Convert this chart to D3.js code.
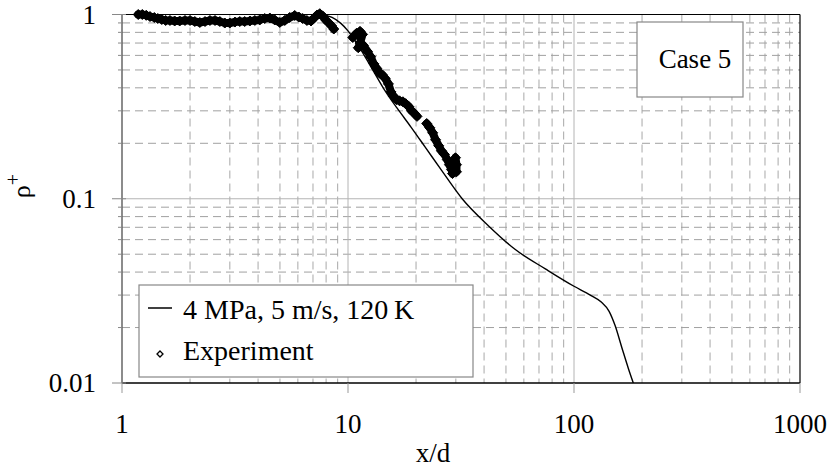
<!DOCTYPE html>
<html>
<head>
<meta charset="utf-8">
<script src="https://cdn.jsdelivr.net/npm/d3@7"></script>
<style>
  body { margin: 0; background: #fff; }
  svg { display: block; font-family: "Liberation Serif", "Times New Roman", serif; }
</style>
</head>
<body>
<div id="chart"></div>
<script>
// Simulation curve (4 MPa, 5 m/s, 120 K)
const simX   = [7.5, 8.5, 9.3, 10.0, 11.0, 12.0, 13.0, 14.5, 16.5, 19.0, 22.0, 26.0, 32.0, 42, 55, 75, 100, 118, 132, 143, 152, 163, 174, 183];
const simRho = [1.0, 0.965, 0.895, 0.815, 0.69, 0.58, 0.49, 0.39, 0.31, 0.245, 0.19, 0.142, 0.100, 0.071, 0.053, 0.0415, 0.0335, 0.0300, 0.0275, 0.0245, 0.0205, 0.0155, 0.0120, 0.0100];

// Experiment, three measured stretches [x/d, rho+]
const expSeg1 = [
  [1.18, 1.0], [1.23, 1.0], [1.28, 0.99], [1.33, 0.975], [1.39, 0.963], [1.44, 0.951], [1.50, 0.939],
  [1.56, 0.928], [1.63, 0.928], [1.71, 0.922], [1.80, 0.922], [1.90, 0.928], [2.0, 0.928], [2.10, 0.916],
  [2.21, 0.905], [2.33, 0.916], [2.45, 0.928], [2.58, 0.928], [2.71, 0.916], [2.85, 0.899], [3.0, 0.899],
  [3.16, 0.910], [3.32, 0.916], [3.49, 0.916], [3.68, 0.922], [3.87, 0.928], [4.07, 0.934], [4.28, 0.951],
  [4.51, 0.957], [4.74, 0.934], [4.99, 0.905], [5.25, 0.928], [5.52, 0.963], [5.81, 0.988], [6.06, 0.969],
  [6.30, 0.951], [6.58, 0.928], [6.86, 0.922], [7.08, 0.957], [7.30, 0.994], [7.50, 1.01], [7.73, 0.98],
  [7.97, 0.934], [8.22, 0.899], [8.47, 0.866], [8.65, 0.834]
];
const expSeg2 = [
  [10.5, 0.75], [10.9, 0.79], [11.3, 0.81], [11.6, 0.78], [11.3, 0.70], [11.1, 0.66], [11.7, 0.68],
  [12.2, 0.63], [12.6, 0.59], [13.0, 0.54], [13.4, 0.51], [13.8, 0.48], [14.2, 0.47], [14.6, 0.45],
  [15.1, 0.42], [15.5, 0.38], [15.9, 0.36], [16.4, 0.345], [16.9, 0.34], [17.5, 0.336], [18.0, 0.328],
  [18.6, 0.316], [19.1, 0.30], [19.7, 0.29], [20.2, 0.28]
];
const expSeg3 = [
  [22.3, 0.256], [23.0, 0.243], [23.7, 0.228], [24.4, 0.209], [25.2, 0.194], [25.9, 0.182], [26.7, 0.174],
  [27.5, 0.163], [28.1, 0.153], [28.7, 0.144], [29.3, 0.153], [29.9, 0.167], [30.2, 0.153], [30.2, 0.14],
  [29.0, 0.137]
];

const xMajor = [1, 10, 100, 1000];
const yMajor = [0.01, 0.1, 1];
const legendLabels = ["4 MPa, 5 m/s, 120\u2009K", "Experiment"];

const width = 832, height = 470;
const margin = {top: 14.5, right: 32, bottom: 87, left: 122};
const innerW = width - margin.left - margin.right;
const innerH = height - margin.top - margin.bottom;

const svg = d3.select("#chart").append("svg")
  .attr("width", width)
  .attr("height", height);

const x = d3.scaleLog().domain([1, 1000]).range([0, innerW]);
const y = d3.scaleLog().domain([0.01, 1]).range([innerH, 0]);

const g = svg.append("g").attr("transform", `translate(${margin.left},${margin.top})`);

svg.append("defs").append("clipPath").attr("id", "clip")
  .append("rect").attr("width", innerW).attr("height", innerH);

// grid lines
const xMinor = x.ticks().filter(v => !xMajor.includes(v));
const yMinor = y.ticks().filter(v => !yMajor.some(m => Math.abs(m - v) < 1e-9));

g.append("g").selectAll("line").data(xMinor).join("line")
  .attr("x1", d => x(d)).attr("x2", d => x(d))
  .attr("y1", 0).attr("y2", innerH)
  .attr("stroke", "#a8a8a8").attr("stroke-dasharray", "8,5");

g.append("g").selectAll("line").data(yMinor).join("line")
  .attr("x1", 0).attr("x2", innerW)
  .attr("y1", d => y(d)).attr("y2", d => y(d))
  .attr("stroke", "#a0a0a0").attr("stroke-dasharray", "8,5");

g.append("g").selectAll("line").data(xMajor.slice(1, 3)).join("line")
  .attr("x1", d => x(d)).attr("x2", d => x(d))
  .attr("y1", 0).attr("y2", innerH)
  .attr("stroke", "#b4b4b4");

g.append("g").selectAll("line").data([0.1]).join("line")
  .attr("x1", 0).attr("x2", innerW)
  .attr("y1", d => y(d)).attr("y2", d => y(d))
  .attr("stroke", "#b4b4b4");

// simulation line
const simData = simX.map((v, i) => [v, simRho[i]]);
g.append("path")
  .datum(simData)
  .attr("clip-path", "url(#clip)")
  .attr("fill", "none")
  .attr("stroke", "#000")
  .attr("stroke-width", 1.4)
  .attr("d", d3.line().x(d => x(d[0])).y(d => y(d[1])).curve(d3.curveMonotoneX));

// experiment: overlapping diamond markers form a thick band
const diamond = r => `M0,${-r}L${r},0L0,${r}L${-r},0Z`;
const expSegs = [expSeg1, expSeg2, expSeg3];
g.append("g").selectAll("path").data(expSegs).join("path")
  .attr("fill", "none")
  .attr("stroke", "#000")
  .attr("stroke-width", 8)
  .attr("stroke-linejoin", "round")
  .attr("stroke-linecap", "round")
  .attr("d", d3.line().x(d => x(d[0])).y(d => y(d[1])));

g.append("g").selectAll("path").data(expSegs.flat()).join("path")
  .attr("transform", d => `translate(${x(d[0])},${y(d[1])})`)
  .attr("d", diamond(5))
  .attr("fill", "#000")
  .attr("stroke", "#000")
  .attr("stroke-width", 1);

// axes
g.append("line").attr("x1", 0).attr("x2", innerW).attr("y1", innerH).attr("y2", innerH)
  .attr("stroke", "#000").attr("stroke-width", 1.5);
g.append("line").attr("x1", 0).attr("x2", innerW).attr("y1", 0).attr("y2", 0)
  .attr("stroke", "#000").attr("stroke-width", 1.2);
g.append("line").attr("x1", innerW).attr("x2", innerW).attr("y1", 0).attr("y2", innerH)
  .attr("stroke", "#000").attr("stroke-width", 1.2);
g.append("line").attr("x1", 0).attr("x2", 0).attr("y1", 0).attr("y2", innerH)
  .attr("stroke", "#666").attr("stroke-width", 1.5);

// x ticks below axis
g.append("g").selectAll("line").data(xMajor).join("line")
  .attr("x1", d => x(d)).attr("x2", d => x(d))
  .attr("y1", innerH).attr("y2", innerH + 10)
  .attr("stroke", "#999");

// y ticks
g.append("g").selectAll("line").data(yMajor).join("line")
  .attr("x1", -10).attr("x2", 4)
  .attr("y1", d => y(d)).attr("y2", d => y(d))
  .attr("stroke", "#888");
g.append("g").selectAll("line").data(yMinor).join("line")
  .attr("x1", -4).attr("x2", 0)
  .attr("y1", d => y(d)).attr("y2", d => y(d))
  .attr("stroke", "#888");

// tick labels
g.append("g").selectAll("text").data(xMajor).join("text")
  .attr("x", d => x(d)).attr("y", innerH + 50)
  .attr("text-anchor", "middle")
  .attr("font-size", 27)
  .text(d => d);

g.append("g").selectAll("text").data(yMajor).join("text")
  .attr("x", -26).attr("y", d => y(d) + 9)
  .attr("text-anchor", "end")
  .attr("font-size", 27)
  .text(d => d);

// axis titles
svg.append("text")
  .attr("x", 433).attr("y", 462)
  .attr("text-anchor", "middle")
  .attr("font-size", 27)
  .text("x/d");

const yTitle = svg.append("text")
  .attr("transform", "translate(30,186) rotate(-90)")
  .attr("text-anchor", "middle")
  .attr("font-size", 26);
yTitle.append("tspan").text("\u03c1");
yTitle.append("tspan").attr("dy", -10).attr("font-size", 20).text("+");

// legend
const legend = svg.append("g").attr("transform", "translate(139,285)");
legend.append("rect")
  .attr("width", 334).attr("height", 92)
  .attr("fill", "#fff").attr("stroke", "#888").attr("stroke-width", 1.2);
legend.append("line")
  .attr("x1", 9).attr("x2", 33).attr("y1", 23).attr("y2", 23)
  .attr("stroke", "#000").attr("stroke-width", 1.5);
legend.append("path")
  .attr("transform", "translate(21,69)")
  .attr("d", diamond(3))
  .attr("fill", "#fff").attr("stroke", "#000").attr("stroke-width", 1.3);
legend.selectAll("text.lab").data(legendLabels).join("text")
  .attr("class", "lab")
  .attr("x", 44).attr("y", (d, i) => 34 + i * 41)
  .attr("font-size", 28)
  .text(d => d);

// case label box
const caseBox = svg.append("g").attr("transform", "translate(637,22)");
caseBox.append("rect")
  .attr("width", 106).attr("height", 75)
  .attr("fill", "#fff").attr("stroke", "#888").attr("stroke-width", 1.2);
caseBox.append("text")
  .attr("x", 58).attr("y", 46)
  .attr("text-anchor", "middle")
  .attr("font-size", 27)
  .text("Case 5");
</script>
</body>
</html>
